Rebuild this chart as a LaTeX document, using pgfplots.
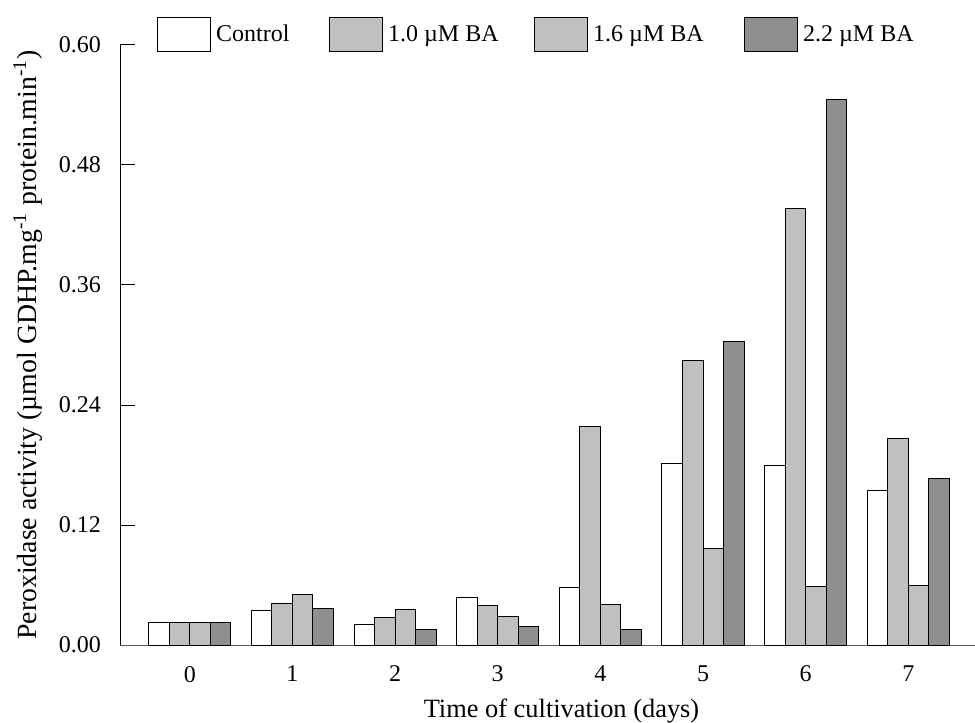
\documentclass[border=0pt]{standalone}
\usepackage{fontspec}
\setmainfont{Liberation Serif}
\usepackage{pgfplots}
\pgfplotsset{compat=1.18}
\definecolor{lg}{RGB}{192,192,192}
\definecolor{dg}{RGB}{143,143,143}
\begin{document}
\begin{tikzpicture}
\begin{axis}[
  name=ax,
  scale only axis,
  width=427.5pt, height=300pt,
  xmin=-0.68, xmax=7.65,
  ymin=0, ymax=0.6,
  axis y line=left,
  axis x line=bottom,
  axis line style={-},
  x axis line style={black!65},
  y axis line style={black},
  xtick={0,1,2,3,4,5,6,7},
  xtick style={draw=none},
  ytick={0,0.12,0.24,0.36,0.48,0.60},
  tick align=inside,
  major tick length=7.5pt,
  ytick style={black, line width=0.5pt},
  yticklabel style={/pgf/number format/fixed, /pgf/number format/precision=2, /pgf/number format/fixed zerofill, xshift=-6pt},
  /pgf/number format/assume math mode=true,
  tick label style={font=\fontsize{12}{14}\selectfont},
  xticklabel style={yshift=0.5pt},
  xlabel={Time of cultivation (days)},
  xlabel style={font=\fontsize{13.2}{15}\selectfont, at={(axis description cs:0.5,0)}, anchor=north, inner sep=0pt, yshift=-27pt, xshift=7pt},
  ylabel={Peroxidase activity (µmol GDHP.mg\textsuperscript{-1} protein.min\textsuperscript{-1})},
  ylabel style={font=\fontsize{13.9}{15}\selectfont, at={(axis description cs:-0.1076,0.5)}, anchor=center, inner sep=0pt},
  ybar,
  bar width=0.2,
  every axis plot/.append style={draw=black, line width=0.5pt},
  legend columns=4,
  legend style={draw=none, fill=none, at={(axis description cs:0.036,1.017)}, anchor=west,
    font=\fontsize{12}{14}\selectfont,
    nodes={inner sep=0pt},
    /tikz/every odd column/.append style={column sep=2.5pt}},
  legend image code/.code={\draw[#1, line width=0.5pt] (0pt,-8.5pt) rectangle (26.5pt,8.5pt);},
]
\addplot[fill=white, bar shift=-0.3] coordinates {(0,0.023) (1,0.035) (2,0.021) (3,0.048) (4,0.058) (5,0.182) (6,0.180) (7,0.155)};
\addplot[fill=lg, bar shift=-0.1] coordinates {(0,0.023) (1,0.042) (2,0.028) (3,0.040) (4,0.219) (5,0.285) (6,0.436) (7,0.207)};
\addplot[fill=lg, bar shift=0.1] coordinates {(0,0.023) (1,0.051) (2,0.036) (3,0.029) (4,0.041) (5,0.097) (6,0.059) (7,0.060)};
\addplot[fill=dg, bar shift=0.3] coordinates {(0,0.023) (1,0.037) (2,0.016) (3,0.019) (4,0.016) (5,0.303) (6,0.545) (7,0.167)};
\legend{\makebox[56.5pt][l]{Control},\makebox[73pt][l]{1.0 µM BA},\makebox[75.5pt][l]{1.6 µM BA},2.2 µM BA}
\end{axis}
\pgfresetboundingbox
\path ([xshift=-60pt,yshift=-38.5pt]ax.south west) rectangle ([yshift=22.5pt]ax.north east);
\end{tikzpicture}
\end{document}
